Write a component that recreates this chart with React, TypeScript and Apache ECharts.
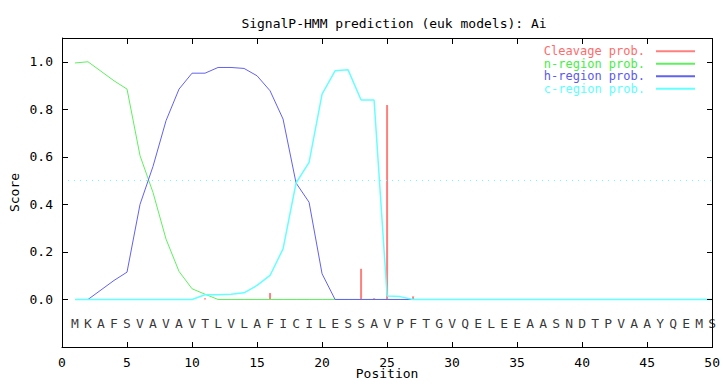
import React, { useEffect, useRef } from "react";
import * as echarts from "echarts";

const positions = Array.from({ length: 50 }, (_, i) => i + 1);
const sequence = "MKAFSVAVAVTLVLAFICILESSAVPFTGVQELEEAASNDTPVAAYQEMS".split("");

const cleavage = [
  0, 0, 0, 0, 0, 0, 0, 0, 0, 0,
  0.005, 0, 0, 0, 0, 0.027, 0, 0, 0, 0,
  0, 0, 0.129, 0.005, 0.818, 0, 0.013, 0, 0, 0,
  0, 0, 0, 0, 0, 0, 0, 0, 0, 0,
  0, 0, 0, 0, 0, 0, 0, 0, 0, 0,
];
const nRegion = [
  0.995, 1.0, 0.96, 0.92, 0.885, 0.605, 0.45, 0.254, 0.118, 0.045,
  0.022, 0, 0, 0, 0, 0, 0, 0, 0, 0,
  0, 0, 0, 0, 0, 0, 0, 0, 0, 0,
  0, 0, 0, 0, 0, 0, 0, 0, 0, 0,
  0, 0, 0, 0, 0, 0, 0, 0, 0, 0,
];
const hRegion = [
  0, 0, 0.04, 0.08, 0.115, 0.4, 0.56, 0.752, 0.885, 0.952,
  0.952, 0.976, 0.976, 0.972, 0.941, 0.878, 0.759, 0.49, 0.409, 0.108,
  0, 0, 0, 0, 0, 0, 0, 0, 0, 0,
  0, 0, 0, 0, 0, 0, 0, 0, 0, 0,
  0, 0, 0, 0, 0, 0, 0, 0, 0, 0,
];
const cRegion = [
  0, 0, 0, 0, 0, 0, 0, 0, 0, 0,
  0.02, 0.02, 0.022, 0.028, 0.059, 0.101, 0.213, 0.49, 0.577, 0.864,
  0.962, 0.966, 0.839, 0.839, 0.015, 0.012, 0, 0, 0, 0,
  0, 0, 0, 0, 0, 0, 0, 0, 0, 0,
  0, 0, 0, 0, 0, 0, 0, 0, 0, 0,
];
const xTicks = [0, 5, 10, 15, 20, 25, 30, 35, 40, 45, 50];
const yTicks = [0, 0.2, 0.4, 0.6, 0.8, 1.0];
const yTickLabels = ["0.0", "0.2", "0.4", "0.6", "0.8", "1.0"];
const X_MIN = 0;
const X_MAX = 50;
const Y_MIN = -0.2;
const Y_MAX = 1.1;
const threshold = 0.5;

const FONT = "DejaVu Sans Mono";
const FRAME = "#000000";
const RED = "#ff7f7f";
const GREEN = "#5ef05e";
const BLUE = "#6262f0";
const CYAN = "#66ffff";

export default function App() {
  const ref = useRef<HTMLDivElement>(null);
  useEffect(() => {
    if (!ref.current) return;
    const chart = echarts.init(ref.current, null, { renderer: "svg" });
    const pair = (arr: number[]) => positions.map((p, i) => [p, arr[i]]);
    const TL = 5;
    chart.setOption({
      animation: false,
      backgroundColor: "#ffffff",
      title: {
        text: "SignalP-HMM prediction (euk models): Ai",
        left: 389,
        textAlign: "center",
        top: 12,
        textStyle: { fontFamily: FONT, fontSize: 13, fontWeight: "normal", color: "#000" },
      },
      legend: {
        orient: "vertical",
        right: 23,
        top: 40,
        align: "right",
        icon: "rect",
        itemWidth: 39,
        itemHeight: 2,
        itemGap: 0,
        selectedMode: false,
        textStyle: { fontFamily: FONT, fontSize: 12, lineHeight: 12.5, padding: [0, 6, 0, 0] },
        data: [
          { name: "Cleavage prob.", textStyle: { color: "#ff6b6b" } },
          { name: "n-region prob.", textStyle: { color: "#46ee46" } },
          { name: "h-region prob.", textStyle: { color: "#5a5af0" } },
          { name: "c-region prob.", textStyle: { color: "#5cffff" } },
        ],
      },
      grid: {
        left: 61,
        right: 8,
        top: 38,
        bottom: 37,
        containLabel: false,
      },
      xAxis: {
        type: "value",
        min: X_MIN,
        max: X_MAX,
        interval: 5,
        name: "Position",
        nameLocation: "middle",
        nameGap: 20,
        nameMoveOverlap: false,
        nameTextStyle: { fontFamily: FONT, fontSize: 13, color: "#000" },
        axisLabel: { fontFamily: FONT, fontSize: 13, color: "#000", margin: 9 },
        axisLine: { show: true, onZero: false, lineStyle: { color: FRAME, width: 1 } },
        axisTick: { show: false },
        splitLine: { show: false },
      },
      yAxis: {
        type: "value",
        min: Y_MIN,
        max: Y_MAX,
        interval: 0.2,
        name: "Score",
        nameLocation: "middle",
        nameGap: 41,
        nameRotate: 90,
        nameMoveOverlap: false,
        nameTextStyle: { fontFamily: FONT, fontSize: 13, color: "#000" },
        axisLabel: {
          fontFamily: FONT,
          fontSize: 13,
          color: "#000",
          margin: 9,
          formatter: (v: number) => {
            const s = v.toFixed(1);
            return yTickLabels.includes(s) && Math.abs(v - parseFloat(s)) < 1e-6 ? s : "";
          },
        },
        axisLine: { show: true, onZero: false, lineStyle: { color: FRAME, width: 1 } },
        axisTick: { show: false },
        splitLine: { show: false },
      },
      series: [
        {
          name: "frame",
          type: "custom",
          silent: true,
          clip: false,
          z: 10,
          data: [[X_MIN, Y_MIN]],
          renderItem: (_params: any, api: any) => {
            const bl = api.coord([X_MIN, Y_MIN]);
            const tr = api.coord([X_MAX, Y_MAX]);
            const L = Math.round(bl[0]);
            const B = Math.round(bl[1]);
            const R = Math.round(tr[0]);
            const T = Math.round(tr[1]);
            const fillStyle = { fill: FRAME };
            const rect = (x: number, y: number, w: number, h: number) => ({
              type: "rect",
              shape: { x, y, width: w, height: h },
              style: fillStyle,
            });
            const children: any[] = [
              rect(L, T, R - L + 1, 1),
              rect(L, B, R - L + 1, 1),
              rect(L, T, 1, B - T + 1),
              rect(R, T, 1, B - T + 1),
            ];
            xTicks.forEach((t) => {
              if (t === X_MIN || t === X_MAX) return;
              const x = Math.round(api.coord([t, 0])[0]);
              children.push(rect(x, B - TL, 1, TL));
              children.push(rect(x, T + 1, 1, TL));
            });
            yTicks.forEach((t) => {
              const y = Math.round(api.coord([0, t])[1]);
              children.push(rect(L + 1, y, TL, 1));
              children.push(rect(R - TL, y, TL, 1));
            });
            return { type: "group", children };
          },
        },
        {
          name: "Cleavage prob.",
          type: "bar",
          data: pair(cleavage),
          barWidth: 2,
          itemStyle: { color: RED },
          z: 2,
        },
        {
          name: "n-region prob.",
          type: "line",
          data: pair(nRegion),
          showSymbol: false,
          symbol: "none",
          lineStyle: { color: GREEN, width: 1 },
          itemStyle: { color: GREEN },
          z: 3,
        },
        {
          name: "h-region prob.",
          type: "line",
          data: pair(hRegion),
          showSymbol: false,
          symbol: "none",
          lineStyle: { color: BLUE, width: 1 },
          itemStyle: { color: BLUE },
          z: 4,
        },
        {
          name: "c-region prob.",
          type: "line",
          data: pair(cRegion),
          showSymbol: false,
          symbol: "none",
          lineStyle: { color: CYAN, width: 1.5 },
          itemStyle: { color: CYAN },
          z: 5,
          markLine: {
            silent: true,
            symbol: "none",
            label: { show: false },
            lineStyle: { color: CYAN, type: [1, 5], width: 1 },
            data: [{ yAxis: threshold }],
          },
        },
        {
          name: "sequence",
          type: "scatter",
          data: positions.map((p, i) => [p, -0.1, sequence[i]]),
          symbolSize: 0,
          clip: false,
          silent: true,
          label: {
            show: true,
            position: "inside",
            formatter: (d: any) => d.value[2],
            fontFamily: FONT,
            fontSize: 13,
            color: "#000",
          },
          z: 6,
        },
      ],
    });
    return () => chart.dispose();
  }, []);
  return (
    <div
      ref={ref}
      style={{ position: "fixed", left: 0, top: 0, width: 723, height: 385 }}
    />
  );
}
